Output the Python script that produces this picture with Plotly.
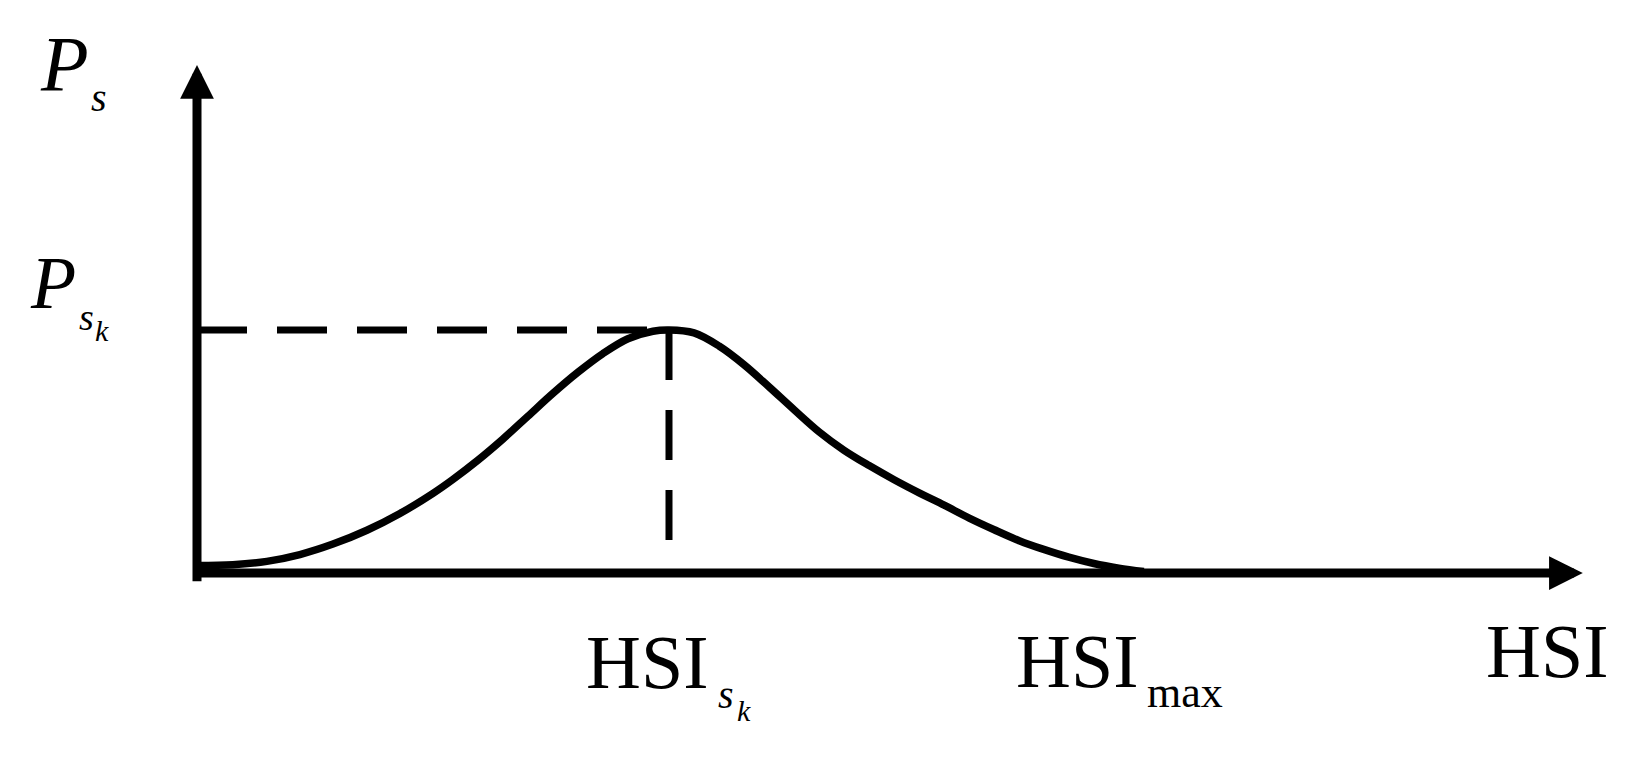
import plotly.graph_objects as go

# curve (HSI in units of HSI_sk, Ps in units of Ps_k)
hsi = [0.0, 0.076, 0.148, 0.218, 0.288, 0.360, 0.430, 0.500, 0.542, 0.595,
       0.648, 0.701, 0.754, 0.807, 0.860, 0.913, 0.966, 1.0,
       1.053, 1.106, 1.159, 1.212, 1.265, 1.318, 1.371, 1.424, 1.477, 1.530,
       1.583, 1.636, 1.689, 1.742, 1.794, 1.847, 1.900, 1.953, 2.006]
ps = [0.031, 0.034, 0.048, 0.076, 0.119, 0.176, 0.245, 0.328, 0.385, 0.464,
      0.551, 0.645, 0.739, 0.826, 0.903, 0.964, 0.995, 1.0,
      0.988, 0.934, 0.857, 0.766, 0.672, 0.581, 0.505, 0.442, 0.384, 0.330,
      0.279, 0.226, 0.178, 0.133, 0.097, 0.065, 0.039, 0.020, 0.006]

hsi_sk = 1.0
ps_sk = 1.0
x_axis_end = 2.936
y_axis_end = 2.091

WIN_W, WIN_H = 1652, 758
PAD = 8                      # default body margin of the html page
W, H = WIN_W - 2 * PAD, WIN_H - 2 * PAD
ORIGIN = (197 - PAD, 573 - PAD)   # origin, in figure pixels
SX, SY = 472, 243                 # pixels per data unit
SERIF = "Liberation Serif, Times New Roman, serif"


def paper(px, py):
    # window pixel -> paper fraction
    return (px - PAD) / W, 1 - (py - PAD) / H


fig = go.Figure()

# dashed guides to the peak
guide = dict(color="black", width=7, dash="50px,30px")
fig.add_trace(go.Scatter(x=[0, hsi_sk], y=[ps_sk, ps_sk], mode="lines", line=guide))
fig.add_trace(go.Scatter(x=[hsi_sk, hsi_sk], y=[ps_sk, 0], mode="lines", line=guide))

# the bell curve (no simplification, so the spline keeps every point)
fig.add_trace(go.Scatter(x=hsi, y=ps, mode="lines",
                         line=dict(color="black", width=7.5, shape="spline",
                                   smoothing=1.0, simplify=False)))

# axes with arrows
arrow = dict(showarrow=True, arrowhead=2, arrowwidth=9, arrowsize=0.75,
             arrowcolor="black", text="", axref="x", ayref="y", xref="x", yref="y")
fig.add_annotation(x=x_axis_end, y=0, ax=-0.01, ay=0, **arrow)
fig.add_annotation(x=0, y=y_axis_end, ax=0, ay=-0.04, **arrow)


def label(text, px, py, size, italic=False, anchor="center"):
    xp, yp = paper(px, py)
    fig.add_annotation(x=xp, y=yp, xref="paper", yref="paper", text=text,
                       showarrow=False, xanchor=anchor, yanchor="middle",
                       font=dict(family=SERIF, size=size, color="black",
                                 style="italic" if italic else "normal"))


# Ps
label("P", 64, 64, 78, italic=True)
label("s", 89, 97, 40, italic=True, anchor="left")
# Ps_k
label("P", 53, 283, 74, italic=True)
label("s", 77, 317, 38, italic=True, anchor="left")
label("k", 93, 330, 30, italic=True, anchor="left")
# HSI_sk
label("HSI", 647, 662, 76)
label("s", 716, 694, 40, italic=True, anchor="left")
label("k", 735, 710, 30, italic=True, anchor="left")
# HSI_max
label("HSI", 1077, 661, 76)
label("max", 1145, 692, 44, anchor="left")
# HSI axis title
label("HSI", 1547, 651, 76)

fig.update_layout(
    width=W, height=H,
    margin=dict(l=0, r=0, t=0, b=0),
    paper_bgcolor="white", plot_bgcolor="white",
    showlegend=False,
    xaxis=dict(visible=False, range=[-ORIGIN[0] / SX, (W - ORIGIN[0]) / SX]),
    yaxis=dict(visible=False, range=[(ORIGIN[1] - H) / SY, ORIGIN[1] / SY]),
)

fig.write_html("out.html")
